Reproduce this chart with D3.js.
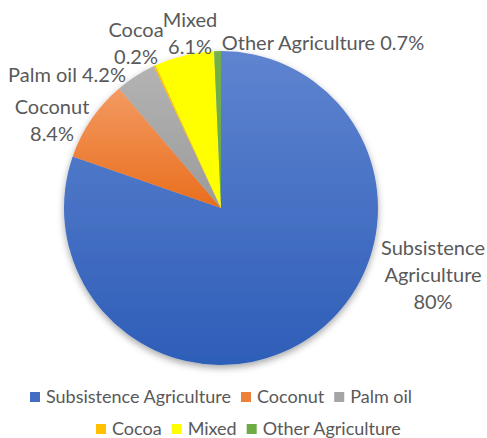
<!DOCTYPE html>
<html>
<head>
<meta charset="utf-8">
<script src="https://cdn.jsdelivr.net/npm/d3@7"></script>
<style>
  body { margin: 0; background: #fff; }
  svg text { font-family: Lato, "Noto Sans", sans-serif; fill: #595959; }
</style>
</head>
<body>
<div id="chart"></div>
<script>
const categories = ['Subsistence Agriculture', 'Coconut', 'Palm oil', 'Cocoa', 'Mixed', 'Other Agriculture'];
const shares = [80, 8.4, 4.2, 0.2, 6.1, 0.7];
const shareLabels = ['80%', '8.4%', '4.2%', '0.2%', '6.1%', '0.7%'];

const colorsTop = ['#5f84d0', '#f39a62', '#b3b3b3', '#ffc000', '#ffff00', '#74b04a'];
const colorsBottom = ['#2e5eb8', '#e96e1c', '#9b9b9b', '#ffc000', '#ffff00', '#6aa842'];

// label layout: lines + centre point relative to pie centre
const labelLayout = [
  { lines: ['Subsistence', 'Agriculture', '80%'], x: 212, y: 67 },
  { lines: ['Coconut', '8.4%'], x: -169, y: -88 },
  { lines: ['Palm oil 4.2%'], x: -154, y: -133 },
  { lines: ['Cocoa', '0.2%'], x: -85, y: -165 },
  { lines: ['Mixed', '6.1%'], x: -31, y: -175 },
  { lines: ['Other Agriculture 0.7%'], x: 102, y: -165 },
];

const width = 487;
const height = 438;
const cx = 221;
const cy = 208;
const radius = 157;

const svg = d3.select('#chart').append('svg')
  .attr('width', width)
  .attr('height', height);

const defs = svg.append('defs');

const shadow = defs.append('filter')
  .attr('id', 'shadow')
  .attr('x', '-20%').attr('y', '-20%')
  .attr('width', '140%').attr('height', '140%');
shadow.append('feDropShadow')
  .attr('dx', 0).attr('dy', 3)
  .attr('stdDeviation', 3.5)
  .attr('flood-color', '#000')
  .attr('flood-opacity', 0.35);

categories.forEach((c, i) => {
  const g = defs.append('linearGradient')
    .attr('id', `grad${i}`)
    .attr('x1', 0).attr('y1', 0)
    .attr('x2', 0).attr('y2', 1);
  g.append('stop').attr('offset', '0%').attr('stop-color', colorsTop[i]);
  g.append('stop').attr('offset', '100%').attr('stop-color', colorsBottom[i]);
});

const data = categories.map((name, i) => ({ name, value: shares[i], label: shareLabels[i] }));

const pie = d3.pie().sort(null).value((d) => d.value);
const arc = d3.arc().innerRadius(0).outerRadius(radius);

const pieGroup = svg.append('g')
  .attr('transform', `translate(${cx},${cy})`);

pieGroup.append('g')
  .attr('filter', 'url(#shadow)')
  .selectAll('path')
  .data(pie(data))
  .enter().append('path')
  .attr('d', arc)
  .style('fill', (d, i) => `url(#grad${i})`);

// data labels
const lineHeight = 27;
const labels = pieGroup.selectAll('.label')
  .data(labelLayout)
  .enter().append('text')
  .attr('class', 'label')
  .attr('text-anchor', 'middle')
  .style('font-size', '20px');

labels.each(function (d) {
  const t = d3.select(this);
  const top = d.y - (d.lines.length - 1) * lineHeight / 2;
  d.lines.forEach((line, j) => {
    t.append('tspan')
      .attr('x', d.x)
      .attr('y', top + j * lineHeight)
      .attr('dy', '0.35em')
      .text(line);
  });
});

// legend
const legendRows = [[0, 1, 2], [3, 4, 5]];
const legendStart = [30, 96];
const legendY = [397, 429];
const swatch = 10;

const legend = svg.append('g').attr('class', 'legend');

legendRows.forEach((row, r) => {
  let x = legendStart[r];
  row.forEach((i) => {
    legend.append('rect')
      .attr('x', x)
      .attr('y', legendY[r] - swatch / 2)
      .attr('width', swatch)
      .attr('height', swatch)
      .style('fill', d3.interpolateRgb(colorsTop[i], colorsBottom[i])(0.6));
    const txt = legend.append('text')
      .attr('x', x + swatch + 6)
      .attr('y', legendY[r])
      .attr('dy', '0.35em')
      .style('font-size', '18px')
      .text(categories[i]);
    x += swatch + 6 + txt.node().getComputedTextLength() + 10;
  });
});
</script>
</body>
</html>
